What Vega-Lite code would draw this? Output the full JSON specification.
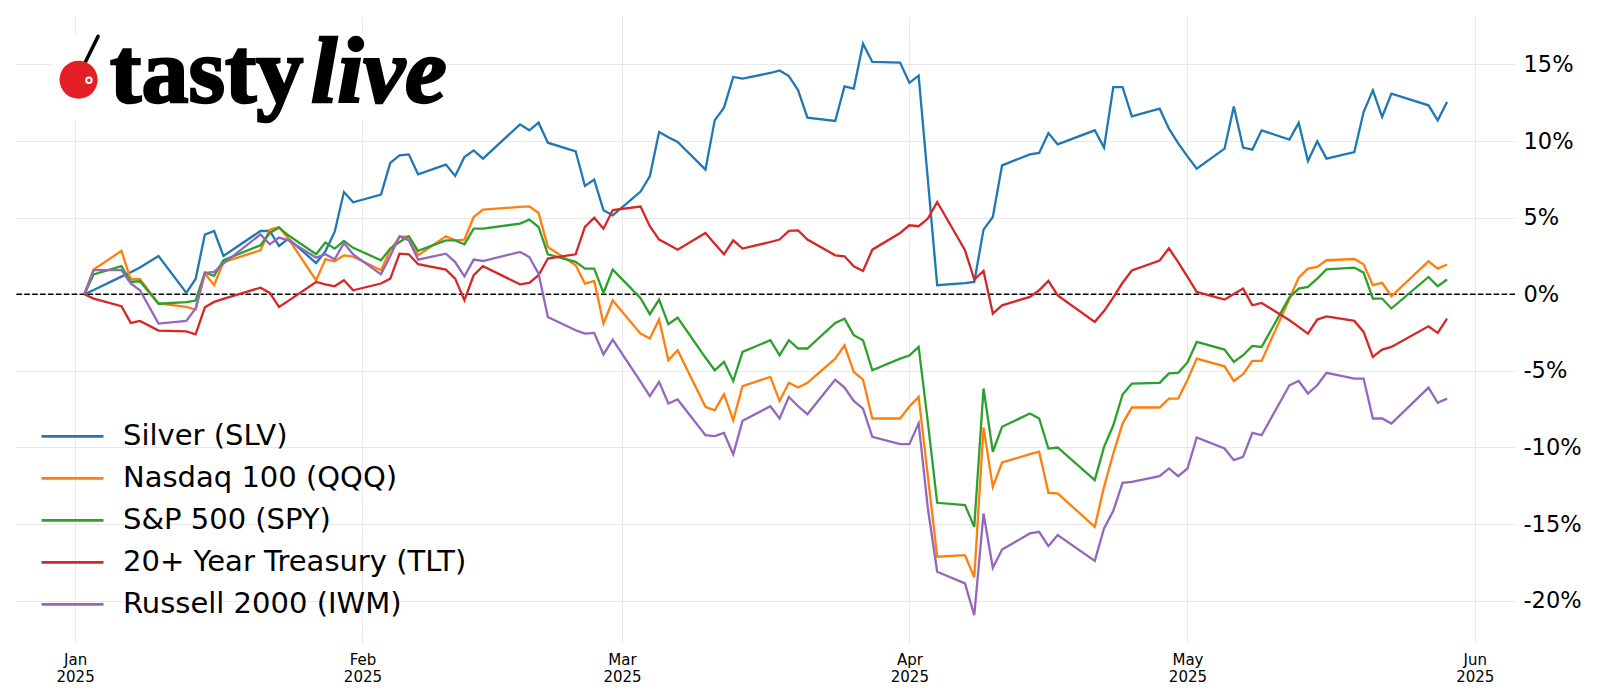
{
  "$schema": "https://vega.github.io/schema/vega-lite/v6.json",
  "width": 1499,
  "height": 627,
  "autosize": {"type": "none"},
  "padding": {"left": 16, "top": 16, "right": 85, "bottom": 57},
  "background": "white",
  "config": {
    "view": {"stroke": null},
    "axis": {"labelFont": "DejaVu Sans", "labelColor": "#000000", "domain": false, "ticks": false, "gridColor": "#e3e3e3", "gridWidth": 0.8}
  },
  "datasets": {
    "prices": [
      {"date": "2025-01-02", "SLV": 0, "QQQ": 0, "SPY": 0, "TLT": 0, "IWM": 0},
      {"date": "2025-01-03", "SLV": 0.28, "QQQ": 1.61, "SPY": 1.3, "TLT": -0.28, "IWM": 1.57},
      {"date": "2025-01-06", "SLV": 1.15, "QQQ": 2.83, "SPY": 1.83, "TLT": -0.78, "IWM": 1.57},
      {"date": "2025-01-07", "SLV": 1.44, "QQQ": 0.98, "SPY": 0.8, "TLT": -1.87, "IWM": 0.7},
      {"date": "2025-01-08", "SLV": 1.74, "QQQ": 0.98, "SPY": 0.85, "TLT": -1.74, "IWM": 0.26},
      {"date": "2025-01-10", "SLV": 2.5, "QQQ": -0.6, "SPY": -0.62, "TLT": -2.37, "IWM": -1.91},
      {"date": "2025-01-13", "SLV": 0.09, "QQQ": -0.83, "SPY": -0.52, "TLT": -2.42, "IWM": -1.74},
      {"date": "2025-01-14", "SLV": 1.0, "QQQ": -1.0, "SPY": -0.41, "TLT": -2.61, "IWM": -0.93},
      {"date": "2025-01-15", "SLV": 3.89, "QQQ": 1.35, "SPY": 1.42, "TLT": -0.85, "IWM": 1.39},
      {"date": "2025-01-16", "SLV": 4.13, "QQQ": 0.59, "SPY": 1.2, "TLT": -0.5, "IWM": 1.46},
      {"date": "2025-01-17", "SLV": 2.5, "QQQ": 2.1, "SPY": 2.22, "TLT": -0.3, "IWM": 2.0},
      {"date": "2025-01-21", "SLV": 4.13, "QQQ": 2.87, "SPY": 3.2, "TLT": 0.43, "IWM": 3.91},
      {"date": "2025-01-22", "SLV": 4.13, "QQQ": 4.22, "SPY": 4.0, "TLT": 0.09, "IWM": 3.26},
      {"date": "2025-01-23", "SLV": 3.15, "QQQ": 4.39, "SPY": 4.35, "TLT": -0.83, "IWM": 3.7},
      {"date": "2025-01-24", "SLV": 3.63, "QQQ": 3.63, "SPY": 3.85, "TLT": -0.43, "IWM": 3.52},
      {"date": "2025-01-27", "SLV": 2.04, "QQQ": 0.91, "SPY": 2.61, "TLT": 0.8, "IWM": 2.39},
      {"date": "2025-01-28", "SLV": 2.8, "QQQ": 2.28, "SPY": 3.37, "TLT": 0.65, "IWM": 2.61},
      {"date": "2025-01-29", "SLV": 4.07, "QQQ": 2.15, "SPY": 2.98, "TLT": 0.52, "IWM": 2.28},
      {"date": "2025-01-30", "SLV": 6.67, "QQQ": 2.54, "SPY": 3.48, "TLT": 0.91, "IWM": 3.35},
      {"date": "2025-01-31", "SLV": 6.0, "QQQ": 2.45, "SPY": 3.03, "TLT": 0.26, "IWM": 2.6},
      {"date": "2025-02-03", "SLV": 6.5, "QQQ": 1.57, "SPY": 2.22, "TLT": 0.7, "IWM": 1.3},
      {"date": "2025-02-04", "SLV": 8.57, "QQQ": 2.87, "SPY": 2.98, "TLT": 1.02, "IWM": 2.5},
      {"date": "2025-02-05", "SLV": 9.07, "QQQ": 3.74, "SPY": 3.41, "TLT": 2.65, "IWM": 3.78},
      {"date": "2025-02-06", "SLV": 9.13, "QQQ": 3.78, "SPY": 3.78, "TLT": 2.61, "IWM": 3.52},
      {"date": "2025-02-07", "SLV": 7.83, "QQQ": 2.54, "SPY": 2.83, "TLT": 1.96, "IWM": 2.26},
      {"date": "2025-02-10", "SLV": 8.46, "QQQ": 3.78, "SPY": 3.52, "TLT": 1.61, "IWM": 2.65},
      {"date": "2025-02-11", "SLV": 7.72, "QQQ": 3.52, "SPY": 3.52, "TLT": 1.02, "IWM": 2.1},
      {"date": "2025-02-12", "SLV": 8.96, "QQQ": 3.57, "SPY": 3.26, "TLT": -0.39, "IWM": 1.17},
      {"date": "2025-02-13", "SLV": 9.39, "QQQ": 5.04, "SPY": 4.28, "TLT": 1.24, "IWM": 2.26},
      {"date": "2025-02-14", "SLV": 8.85, "QQQ": 5.52, "SPY": 4.28, "TLT": 1.83, "IWM": 2.17},
      {"date": "2025-02-18", "SLV": 11.09, "QQQ": 5.7, "SPY": 4.61, "TLT": 0.65, "IWM": 2.76},
      {"date": "2025-02-19", "SLV": 10.7, "QQQ": 5.74, "SPY": 4.87, "TLT": 0.74, "IWM": 2.43},
      {"date": "2025-02-20", "SLV": 11.2, "QQQ": 5.3, "SPY": 4.39, "TLT": 1.24, "IWM": 1.35},
      {"date": "2025-02-21", "SLV": 9.89, "QQQ": 3.09, "SPY": 2.61, "TLT": 2.33, "IWM": -1.48},
      {"date": "2025-02-24", "SLV": 9.33, "QQQ": 1.89, "SPY": 2.11, "TLT": 2.61, "IWM": -2.35},
      {"date": "2025-02-25", "SLV": 7.07, "QQQ": 0.7, "SPY": 1.67, "TLT": 4.39, "IWM": -2.57},
      {"date": "2025-02-26", "SLV": 7.48, "QQQ": 0.87, "SPY": 1.67, "TLT": 5.0, "IWM": -2.52},
      {"date": "2025-02-27", "SLV": 5.48, "QQQ": -1.91, "SPY": 0.09, "TLT": 4.28, "IWM": -3.93},
      {"date": "2025-02-28", "SLV": 5.15, "QQQ": -0.41, "SPY": 1.61, "TLT": 5.5, "IWM": -2.96},
      {"date": "2025-03-03", "SLV": 6.7, "QQQ": -2.57, "SPY": -0.25, "TLT": 5.72, "IWM": -5.7},
      {"date": "2025-03-04", "SLV": 7.7, "QQQ": -2.89, "SPY": -1.3, "TLT": 4.44, "IWM": -6.65},
      {"date": "2025-03-05", "SLV": 10.59, "QQQ": -1.65, "SPY": -0.35, "TLT": 3.57, "IWM": -5.72},
      {"date": "2025-03-06", "SLV": 10.24, "QQQ": -4.31, "SPY": -1.96, "TLT": 3.24, "IWM": -7.13},
      {"date": "2025-03-07", "SLV": 9.94, "QQQ": -3.65, "SPY": -1.52, "TLT": 2.91, "IWM": -6.87},
      {"date": "2025-03-10", "SLV": 8.13, "QQQ": -7.35, "SPY": -4.13, "TLT": 4.0, "IWM": -9.2},
      {"date": "2025-03-11", "SLV": 11.35, "QQQ": -7.57, "SPY": -4.96, "TLT": 3.3, "IWM": -9.26},
      {"date": "2025-03-12", "SLV": 12.18, "QQQ": -6.52, "SPY": -4.41, "TLT": 2.61, "IWM": -9.05},
      {"date": "2025-03-13", "SLV": 14.18, "QQQ": -8.22, "SPY": -5.66, "TLT": 3.52, "IWM": -10.44},
      {"date": "2025-03-14", "SLV": 14.07, "QQQ": -6.0, "SPY": -3.76, "TLT": 2.98, "IWM": -8.26},
      {"date": "2025-03-17", "SLV": 14.44, "QQQ": -5.39, "SPY": -3.0, "TLT": 3.41, "IWM": -7.31},
      {"date": "2025-03-18", "SLV": 14.61, "QQQ": -6.96, "SPY": -3.98, "TLT": 3.57, "IWM": -8.11},
      {"date": "2025-03-19", "SLV": 14.24, "QQQ": -5.78, "SPY": -3.0, "TLT": 4.13, "IWM": -6.7},
      {"date": "2025-03-20", "SLV": 13.31, "QQQ": -6.09, "SPY": -3.54, "TLT": 4.17, "IWM": -7.31},
      {"date": "2025-03-21", "SLV": 11.53, "QQQ": -5.78, "SPY": -3.54, "TLT": 3.57, "IWM": -7.83},
      {"date": "2025-03-24", "SLV": 11.31, "QQQ": -4.2, "SPY": -1.87, "TLT": 2.54, "IWM": -5.57},
      {"date": "2025-03-25", "SLV": 13.57, "QQQ": -3.33, "SPY": -1.59, "TLT": 2.48, "IWM": -6.09},
      {"date": "2025-03-26", "SLV": 13.42, "QQQ": -5.07, "SPY": -2.67, "TLT": 1.83, "IWM": -6.96},
      {"date": "2025-03-27", "SLV": 16.35, "QQQ": -5.57, "SPY": -3.0, "TLT": 1.52, "IWM": -7.46},
      {"date": "2025-03-28", "SLV": 15.16, "QQQ": -8.11, "SPY": -4.96, "TLT": 2.91, "IWM": -9.31},
      {"date": "2025-03-31", "SLV": 15.12, "QQQ": -8.11, "SPY": -4.2, "TLT": 4.0, "IWM": -9.78},
      {"date": "2025-04-01", "SLV": 13.8, "QQQ": -7.33, "SPY": -4.0, "TLT": 4.5, "IWM": -9.78},
      {"date": "2025-04-02", "SLV": 14.27, "QQQ": -6.7, "SPY": -3.44, "TLT": 4.44, "IWM": -8.42},
      {"date": "2025-04-03", "SLV": 7.44, "QQQ": -11.9, "SPY": -8.4, "TLT": 4.94, "IWM": -14.0},
      {"date": "2025-04-04", "SLV": 0.59, "QQQ": -17.13, "SPY": -13.61, "TLT": 6.02, "IWM": -18.11},
      {"date": "2025-04-07", "SLV": 0.72, "QQQ": -17.03, "SPY": -13.76, "TLT": 2.87, "IWM": -18.87},
      {"date": "2025-04-08", "SLV": 0.8, "QQQ": -18.48, "SPY": -15.18, "TLT": 0.96, "IWM": -20.95},
      {"date": "2025-04-09", "SLV": 4.22, "QQQ": -8.7, "SPY": -6.15, "TLT": 1.52, "IWM": -14.31},
      {"date": "2025-04-10", "SLV": 5.04, "QQQ": -12.57, "SPY": -10.28, "TLT": -1.26, "IWM": -17.85},
      {"date": "2025-04-11", "SLV": 8.41, "QQQ": -10.98, "SPY": -8.65, "TLT": -0.72, "IWM": -16.66},
      {"date": "2025-04-14", "SLV": 9.13, "QQQ": -10.44, "SPY": -7.78, "TLT": -0.17, "IWM": -15.61},
      {"date": "2025-04-15", "SLV": 9.22, "QQQ": -10.28, "SPY": -8.11, "TLT": 0.26, "IWM": -15.5},
      {"date": "2025-04-16", "SLV": 10.52, "QQQ": -12.96, "SPY": -10.07, "TLT": 0.87, "IWM": -16.44},
      {"date": "2025-04-17", "SLV": 9.78, "QQQ": -13.0, "SPY": -10.0, "TLT": -0.07, "IWM": -15.72},
      {"date": "2025-04-21", "SLV": 10.7, "QQQ": -15.18, "SPY": -12.13, "TLT": -1.8, "IWM": -17.4},
      {"date": "2025-04-22", "SLV": 9.57, "QQQ": -12.57, "SPY": -9.96, "TLT": -1.1, "IWM": -15.29},
      {"date": "2025-04-23", "SLV": 13.52, "QQQ": -10.39, "SPY": -8.55, "TLT": -0.2, "IWM": -14.13},
      {"date": "2025-04-24", "SLV": 13.52, "QQQ": -8.44, "SPY": -6.54, "TLT": 0.75, "IWM": -12.31},
      {"date": "2025-04-25", "SLV": 11.61, "QQQ": -7.39, "SPY": -5.83, "TLT": 1.55, "IWM": -12.24},
      {"date": "2025-04-28", "SLV": 12.11, "QQQ": -7.39, "SPY": -5.78, "TLT": 2.2, "IWM": -11.87},
      {"date": "2025-04-29", "SLV": 10.81, "QQQ": -6.81, "SPY": -5.17, "TLT": 3.0, "IWM": -11.37},
      {"date": "2025-04-30", "SLV": 9.85, "QQQ": -6.81, "SPY": -5.13, "TLT": 2.1, "IWM": -11.87},
      {"date": "2025-05-01", "SLV": 9.0, "QQQ": -5.6, "SPY": -4.45, "TLT": 1.13, "IWM": -11.37},
      {"date": "2025-05-02", "SLV": 8.2, "QQQ": -4.2, "SPY": -3.11, "TLT": 0.15, "IWM": -9.35},
      {"date": "2025-05-05", "SLV": 9.5, "QQQ": -4.7, "SPY": -3.61, "TLT": -0.35, "IWM": -10.07},
      {"date": "2025-05-06", "SLV": 12.26, "QQQ": -5.66, "SPY": -4.41, "TLT": 0.02, "IWM": -10.83},
      {"date": "2025-05-07", "SLV": 9.57, "QQQ": -5.22, "SPY": -3.98, "TLT": 0.37, "IWM": -10.61},
      {"date": "2025-05-08", "SLV": 9.44, "QQQ": -4.35, "SPY": -3.37, "TLT": -0.72, "IWM": -9.05},
      {"date": "2025-05-09", "SLV": 10.7, "QQQ": -4.35, "SPY": -3.44, "TLT": -0.57, "IWM": -9.2},
      {"date": "2025-05-12", "SLV": 10.09, "QQQ": -0.3, "SPY": -0.2, "TLT": -1.7, "IWM": -5.94},
      {"date": "2025-05-13", "SLV": 11.18, "QQQ": 1.09, "SPY": 0.37, "TLT": -2.13, "IWM": -5.66},
      {"date": "2025-05-14", "SLV": 8.7, "QQQ": 1.67, "SPY": 0.48, "TLT": -2.57, "IWM": -6.48},
      {"date": "2025-05-15", "SLV": 9.98, "QQQ": 1.78, "SPY": 1.02, "TLT": -1.65, "IWM": -5.94},
      {"date": "2025-05-16", "SLV": 8.85, "QQQ": 2.22, "SPY": 1.63, "TLT": -1.44, "IWM": -5.13},
      {"date": "2025-05-19", "SLV": 9.28, "QQQ": 2.3, "SPY": 1.74, "TLT": -1.74, "IWM": -5.5},
      {"date": "2025-05-20", "SLV": 11.89, "QQQ": 1.96, "SPY": 1.41, "TLT": -2.46, "IWM": -5.5},
      {"date": "2025-05-21", "SLV": 13.31, "QQQ": 0.59, "SPY": -0.28, "TLT": -4.09, "IWM": -8.11},
      {"date": "2025-05-22", "SLV": 11.57, "QQQ": 0.74, "SPY": -0.28, "TLT": -3.61, "IWM": -8.11},
      {"date": "2025-05-23", "SLV": 13.09, "QQQ": -0.13, "SPY": -0.93, "TLT": -3.44, "IWM": -8.44},
      {"date": "2025-05-27", "SLV": 12.33, "QQQ": 2.15, "SPY": 1.13, "TLT": -2.09, "IWM": -6.09},
      {"date": "2025-05-28", "SLV": 11.35, "QQQ": 1.67, "SPY": 0.52, "TLT": -2.52, "IWM": -7.09},
      {"date": "2025-05-29", "SLV": 12.55, "QQQ": 1.94, "SPY": 0.96, "TLT": -1.59, "IWM": -6.81}
    ]
  },
  "layer": [
    {
      "data": {"values": [{}]},
      "mark": {"type": "rect", "color": "white"},
      "encoding": {
        "x": {"datum": {"year": 2024, "month": 12, "date": 29, "hours": 15, "utc": true}, "type": "temporal"},
        "x2": {"datum": {"year": 2025, "month": 2, "date": 9, "hours": 21, "utc": true}},
        "y": {"datum": 17.0, "type": "quantitative"},
        "y2": {"datum": 11.35}
      }
    },
    {
      "data": {"values": [{}]},
      "mark": {"type": "rule", "color": "black", "strokeWidth": 1.5, "strokeDash": [5.5, 2.4]},
      "encoding": {"y": {"datum": 0, "type": "quantitative"}}
    },
    {
      "data": {"name": "prices"},
      "transform": [{"fold": ["SLV", "QQQ", "SPY", "TLT", "IWM"], "as": ["series", "value"]}],
      "mark": {"type": "line", "strokeWidth": 2.3},
      "encoding": {
        "x": {
          "field": "date", "type": "temporal",
          "scale": {"type": "utc", "domain": [{"year": 2024, "month": 12, "date": 25, "hours": 15, "utc": true}, {"year": 2025, "month": 6, "date": 5, "hours": 8, "utc": true}]},
          "axis": {"title": null, "grid": true, "tickCount": {"interval": "month", "step": 1}, "labelExpr": "[utcFormat(datum.value, '%b'), utcFormat(datum.value, '%Y')]", "labelFontSize": 15, "labelLineHeight": 17, "labelPadding": 9, "labelAlign": "center"}
        },
        "y": {
          "field": "value", "type": "quantitative",
          "scale": {"domain": [-22.76, 18.16], "nice": false, "zero": false},
          "axis": {"title": null, "orient": "right", "grid": true, "values": [-20, -15, -10, -5, 0, 5, 10, 15], "labelExpr": "datum.value + '%'", "labelFontSize": 22.5, "labelPadding": 8, "labelBaseline": "middle"}
        },
        "color": {
          "field": "series", "type": "nominal",
          "scale": {"domain": ["SLV", "QQQ", "SPY", "TLT", "IWM"], "range": ["#1f77b4", "#ff7f0e", "#2ca02c", "#d62728", "#9467bd"]},
          "legend": {
            "title": null, "orient": "none", "legendX": 24, "legendY": 399.5, "padding": 0,
            "symbolType": "stroke", "symbolSize": 3844, "symbolStrokeWidth": 2.8, "symbolOffset": 0,
            "labelFont": "DejaVu Sans", "labelFontSize": 29, "labelColor": "#000000", "labelOffset": 18, "labelLimit": 0, "rowPadding": 0, "clipHeight": 41.7,
            "labelExpr": "datum.label == 'SLV' ? 'Silver (SLV)' : datum.label == 'QQQ' ? 'Nasdaq 100 (QQQ)' : datum.label == 'SPY' ? 'S&P 500 (SPY)' : datum.label == 'TLT' ? '20+ Year Treasury (TLT)' : 'Russell 2000 (IWM)'"
          }
        }
      }
    },
    {
      "data": {"values": [{}]},
      "mark": {"type": "rule", "color": "black", "strokeWidth": 3.5, "strokeCap": "round"},
      "encoding": {
        "x": {"datum": {"year": 2025, "month": 1, "date": 2, "hours": 2, "utc": true}, "type": "temporal"},
        "x2": {"datum": {"year": 2025, "month": 1, "date": 3, "hours": 11, "minutes": 30, "utc": true}},
        "y": {"datum": 15.13, "type": "quantitative"},
        "y2": {"datum": 16.83}
      }
    },
    {
      "data": {"values": [{}]},
      "mark": {"type": "point", "shape": "circle", "filled": true, "color": "#e41e26", "opacity": 1, "size": 1452},
      "encoding": {
        "x": {"datum": {"year": 2025, "month": 1, "date": 1, "hours": 9, "utc": true}, "type": "temporal"},
        "y": {"datum": 14.0, "type": "quantitative"}
      }
    },
    {
      "data": {"values": [{}]},
      "mark": {"type": "point", "shape": "circle", "filled": false, "color": "white", "strokeWidth": 2, "opacity": 1, "size": 30},
      "encoding": {
        "x": {"datum": {"year": 2025, "month": 1, "date": 2, "hours": 11, "minutes": 45, "utc": true}, "type": "temporal"},
        "y": {"datum": 13.96, "type": "quantitative"}
      }
    },
    {
      "data": {"values": [{}]},
      "mark": {"type": "text", "text": "tasty", "font": "Liberation Serif", "fontWeight": "bold", "fontSize": 94, "align": "left", "baseline": "alphabetic", "color": "black", "stroke": "black", "strokeWidth": 2.5},
      "encoding": {
        "x": {"datum": {"year": 2025, "month": 1, "date": 4, "hours": 18, "minutes": 40, "utc": true}, "type": "temporal"},
        "y": {"datum": 12.54, "type": "quantitative"}
      }
    },
    {
      "data": {"values": [{}]},
      "mark": {"type": "text", "text": "live", "font": "Liberation Serif", "fontWeight": "bold", "fontStyle": "italic", "fontSize": 94, "align": "left", "baseline": "alphabetic", "color": "black", "stroke": "black", "strokeWidth": 2.5},
      "encoding": {
        "x": {"datum": {"year": 2025, "month": 1, "date": 26, "hours": 11, "utc": true}, "type": "temporal"},
        "y": {"datum": 12.54, "type": "quantitative"}
      }
    }
  ]
}
